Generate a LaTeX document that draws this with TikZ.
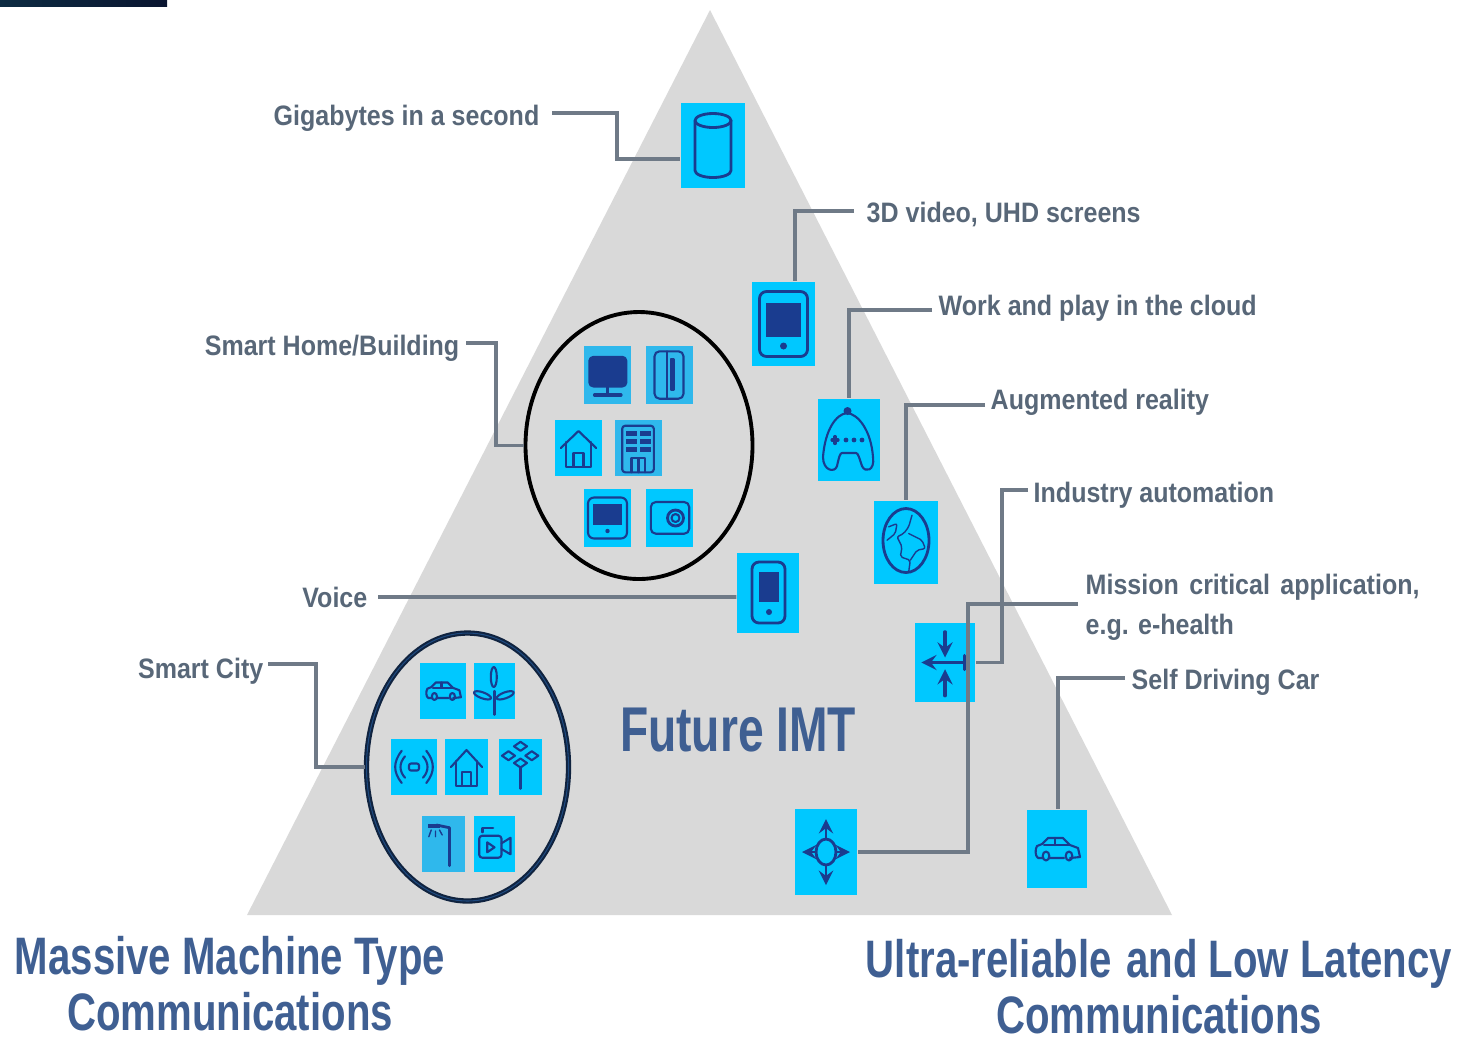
\documentclass[tikz,border=0pt]{standalone}
\usepackage{fontspec}
\usetikzlibrary{shapes.geometric, arrows}
\setmainfont{Liberation Sans}
\newfontfamily\lblfont[FakeStretch=0.89]{Liberation Sans}
\newfontfamily\headfont[FakeStretch=0.762]{Liberation Sans}
\newfontfamily\imtfont[FakeStretch=0.73]{Liberation Sans}
\definecolor{tilecyan}{HTML}{00C8FF}
\definecolor{tiledim}{HTML}{2FB8EC}
\definecolor{iconblue}{HTML}{1A3C8F}
\definecolor{wiregray}{HTML}{6F7A87}
\definecolor{textgray}{HTML}{586778}
\definecolor{headblue}{HTML}{3F5F92}
\definecolor{ringnavy}{HTML}{10233F}
\definecolor{ringblue}{HTML}{1E4A80}
\definecolor{barleft}{HTML}{0C2B42}
\definecolor{barright}{HTML}{0A1530}
\tikzset{>=stealth,
tile/.style 2 args={fill=tilecyan, minimum width=#1cm, minimum height=#2cm, inner sep=0pt},
dimtile/.style 2 args={tile={#1}{#2}, fill=tiledim},
ring/.style={ellipse, draw=black, line width=1.1pt, inner sep=0pt},
wire/.style={draw=wiregray, line width=1.1pt},
lbl/.style={text=textgray, inner sep=0pt, text height=6.5pt, text depth=1.2pt, font=\fontsize{8}{10}\lblfont\bfseries},
head/.style={text=headblue, inner sep=0pt, align=center, font=\fontsize{15}{16}\headfont\bfseries},
icon/.style={draw=iconblue, line width=0.6pt, line join=round, line cap=round},
ink/.style={fill=iconblue, draw=none},
pics/drum/.style={code={
    \draw[icon, line width=0.8pt] (0,0.25) ellipse (0.18 and 0.07);
    \draw[icon, line width=0.8pt] (-0.18,0.25) -- (-0.18,-0.25) arc (180:360:0.18 and 0.07) -- (0.18,0.25);
}},
pics/slate/.style={code={
    \draw[icon, line width=0.8pt, rounded corners=0.07cm] (-0.24,-0.325) rectangle (0.24,0.325);
    \fill[ink] (-0.175,0.21) rectangle (0.175,-0.125);
    \fill[ink] (0,-0.22) circle (0.035);
}},
pics/handset/.style={code={
    \draw[icon, line width=0.8pt, rounded corners=0.07cm] (-0.16,-0.3) rectangle (0.17,0.31);
    \fill[ink] (-0.09,0.21) rectangle (0.11,-0.09);
    \fill[ink] (0.01,-0.19) circle (0.03);
}},
pics/padtab/.style={code={
    \draw[icon, rounded corners=0.06cm] (-0.195,-0.205) rectangle (0.195,0.205);
    \fill[ink] (-0.15,0.145) rectangle (0.14,-0.07);
    \fill[ink] (0,-0.13) circle (0.022);
}},
pics/gamepad/.style={code={
    \draw[icon] (-0.02,0.27) .. controls (-0.13,0.26) and (-0.24,0.1) .. (-0.26,-0.17)
      .. controls (-0.26,-0.31) and (-0.14,-0.33) .. (-0.12,-0.26)
      .. controls (-0.1,-0.17) and (-0.09,-0.13) .. (-0.07,-0.13) -- (0.07,-0.13)
      .. controls (0.09,-0.13) and (0.1,-0.17) .. (0.13,-0.26)
      .. controls (0.16,-0.33) and (0.26,-0.31) .. (0.24,-0.17)
      .. controls (0.22,0.1) and (0.09,0.26) .. (-0.02,0.27) -- cycle;
    \fill[ink] (-0.015,0.29) circle (0.04);
    \draw[icon, line width=0.9pt] (-0.17,0) -- (-0.11,0) (-0.14,0.035) -- (-0.14,-0.035);
    \foreach \px in {-0.03,0.05,0.13} \fill[ink] (\px,0) circle (0.024);
}},
pics/globe/.style={code={
    \draw[icon, line width=0.8pt] (0,0.02) ellipse (0.23 and 0.32);
    \draw[icon, line width=0.4pt, rounded corners=0.02cm] (0.06,0.273) -- (0.027,0.157) -- (-0.023,0.09) -- (-0.09,0.057) -- (-0.04,-0.043) -- (-0.057,-0.143) -- (0.043,-0.177) -- (0.027,-0.293);
    \draw[icon, line width=0.4pt, rounded corners=0.02cm] (0.027,0.09) -- (0.16,0.023) -- (0.193,-0.06) -- (0.11,-0.077) -- (0.043,-0.177);
    \draw[icon, line width=0.4pt, rounded corners=0.02cm] (-0.173,0.157) -- (-0.09,0.19) -- (-0.107,0.09) -- (-0.19,0.023);
}},
pics/arrowsin/.style={code={
    \draw[icon, line width=0.9pt, ->] (0,0) -- (-0.237,0);
    \draw[icon, line width=0.9pt] (0,0) -- (0.197,0) (0.197,0.07) -- (0.197,-0.07);
    \draw[icon, line width=0.9pt, ->] (0,0.307) -- (0,0.05);
    \draw[icon, line width=0.9pt, ->] (0,-0.333) -- (0,-0.067);
}},
pics/arrowsout/.style={code={
    \draw[icon, line width=0.8pt] (0,0) ellipse (0.1 and 0.13);
    \draw[icon, line width=0.8pt, ->] (0,0.13) -- (0,0.33);
    \draw[icon, line width=0.8pt, ->] (0,-0.13) -- (0,-0.33);
    \draw[icon, line width=0.8pt, ->] (-0.1,0) -- (-0.24,0);
    \draw[icon, line width=0.8pt, ->] (0.1,0) -- (0.24,0);
}},
pics/sedan/.style={code={
    \draw[icon] (-0.19,-0.09) .. controls (-0.22,-0.07) and (-0.22,0) .. (-0.2,0.03) -- (-0.15,0.05)
      -- (-0.09,0.11) -- (0.06,0.11) -- (0.13,0.04) -- (0.21,0.01) -- (0.23,-0.08) -- (0.13,-0.09)
      (0.07,-0.09) -- (-0.08,-0.09) (-0.14,-0.09) -- (-0.19,-0.09);
    \draw[icon] (-0.11,-0.07) ellipse (0.033 and 0.045) (0.12,-0.07) ellipse (0.033 and 0.045);
    \draw[icon] (-0.13,0.04) -- (0.12,0.04) (-0.02,0.11) -- (-0.02,0.04);
}},
pics/desktop/.style={code={
    \draw[icon, line width=0.7pt, fill=iconblue, rounded corners=0.04cm] (-0.18,0.18) rectangle (0.187,-0.113);
    \draw[icon] (0,-0.113) -- (0,-0.19);
    \draw[icon, line width=0.9pt] (-0.13,-0.2) -- (0.135,-0.2);
}},
pics/doors/.style={code={
    \draw[icon, rounded corners=0.05cm] (-0.15,0.237) rectangle (0.14,-0.237);
    \draw[icon] (-0.027,0.237) -- (-0.027,-0.237);
    \draw[icon] (0.017,0.163) rectangle (0.04,-0.153);
}},
pics/cottage/.style={code={
    \draw[icon] (-0.177,0) -- (0,0.17) -- (0.177,0);
    \draw[icon] (-0.123,0.06) -- (-0.123,-0.187) -- (0.123,-0.187) -- (0.123,0.06);
    \draw[icon] (-0.05,-0.187) -- (-0.05,-0.047) -- (0.05,-0.047) -- (0.05,-0.187);
}},
pics/tower/.style={code={
    \draw[icon, rounded corners=0.03cm] (-0.163,0.223) rectangle (0.153,-0.243);
    \foreach \py in {0.17,0.09,0.01} {
      \fill[ink] (-0.127,\py) rectangle (-0.02,\py-0.05);
      \fill[ink] (0.013,\py) rectangle (0.12,\py-0.05);
    }
    \draw[icon] (-0.07,-0.243) -- (-0.07,-0.103) -- (0.063,-0.103) -- (0.063,-0.243) (0,-0.103) -- (0,-0.243);
}},
pics/vault/.style={code={
    \draw[icon, rounded corners=0.05cm] (-0.187,0.16) rectangle (0.197,-0.157);
    \draw[icon, line width=0.8pt] (0.06,0) circle (0.08);
    \draw[icon] (0.06,0) circle (0.04);
}},
pics/windmill/.style={code={
    \draw[icon] (0,0) -- (0,-0.237);
    \draw[icon] (-0.007,0.14) ellipse (0.03 and 0.1);
    \draw[icon, rotate around={70:(-0.12,-0.043)}] (-0.12,-0.043) ellipse (0.03 and 0.09);
    \draw[icon, rotate around={-70:(0.107,-0.043)}] (0.107,-0.043) ellipse (0.03 and 0.09);
}},
pics/beacon/.style={code={
    \draw[icon, rounded corners=0.02cm] (-0.05,0.035) rectangle (0.05,-0.035);
    \foreach \sx in {-1,1} {
      \draw[icon] (\sx*0.09,0.107) .. controls (\sx*0.15,0.04) and (\sx*0.15,-0.04) .. (\sx*0.09,-0.107);
      \draw[icon] (\sx*0.123,0.163) .. controls (\sx*0.21,0.05) and (\sx*0.21,-0.05) .. (\sx*0.123,-0.16);
    }
}},
pics/plant/.style={code={
    \foreach \dx/\dy in {0/0.207, -0.12/0.113, 0.113/0.113, 0/0.04}
      \draw[icon] (\dx-0.065,\dy) -- (\dx,\dy+0.045) -- (\dx+0.065,\dy) -- (\dx,\dy-0.045) -- cycle;
    \draw[icon] (0,-0.01) -- (0,-0.217);
}},
pics/lamp/.style={code={
    \draw[icon, line width=0.8pt] (0.06,-0.217) -- (0.06,0.163) -- (-0.07,0.19);
    \fill[ink] (-0.157,0.2) rectangle (-0.04,0.16);
    \draw[icon, line width=0.4pt] (-0.123,0.14) -- (-0.147,0.073) (-0.08,0.13) -- (-0.08,0.073) (-0.04,0.14) -- (-0.013,0.09);
}},
pics/camera/.style={code={
    \draw[icon, rounded corners=0.03cm] (-0.153,0.083) rectangle (0.07,-0.137);
    \draw[icon] (0.07,0.007) -- (0.16,0.063) -- (0.16,-0.103) -- (0.07,-0.05);
    \draw[icon] (-0.12,0.117) -- (-0.12,0.163) -- (-0.013,0.163);
    \draw[icon] (-0.073,0.017) -- (0,-0.033) -- (-0.073,-0.083) -- cycle;
}},
}

\begin{document}
\begin{tikzpicture}
    \useasboundingbox (0,0) rectangle (14.61,-10.38);
    \fill[left color=barleft, right color=barright] (0,0) rectangle (1.67,-0.06);
    \fill[black!15] (7.10,-0.10) -- (11.72,-9.15) -- (2.47,-9.15) -- cycle;

    % tiles on the edge of the triangle
    \node[tile={0.64}{0.85}, xshift=7.13cm, yshift=-1.455cm] (qdrum) {};
    \node[tile={0.63}{0.84}, xshift=7.835cm, yshift=-3.24cm] (qslate) {};
    \node[tile={0.62}{0.82}, xshift=8.49cm, yshift=-4.40cm] (qpad) {};
    \node[tile={0.64}{0.83}, xshift=9.06cm, yshift=-5.425cm] (qglobe) {};
    \node[tile={0.62}{0.80}, xshift=7.68cm, yshift=-5.93cm] (qphone) {};
    \node[tile={0.60}{0.79}, xshift=9.45cm, yshift=-6.625cm] (qarrows) {};
    \node[tile={0.62}{0.86}, xshift=8.26cm, yshift=-8.52cm] (qround) {};
    \node[tile={0.60}{0.78}, xshift=10.57cm, yshift=-8.49cm] (qcar) {};

    % the two groups
    \node[ring, minimum width=2.27cm, minimum height=2.67cm, xshift=6.39cm, yshift=-4.455cm] (qhome) {};
    \node[ring, draw=ringnavy, double=ringblue, double distance=0.3pt, line width=0.6pt,
        minimum width=2.02cm, minimum height=2.68cm, xshift=4.675cm, yshift=-7.67cm] (qcity) {};

    \node[dimtile={0.47}{0.58}, xshift=6.075cm, yshift=-3.75cm] (hscreen) {};
    \node[dimtile={0.47}{0.58}, xshift=6.695cm, yshift=-3.75cm] (hdoors) {};
    \node[tile={0.47}{0.56}, xshift=5.785cm, yshift=-4.48cm] (hhouse) {};
    \node[dimtile={0.47}{0.56}, xshift=6.385cm, yshift=-4.48cm] (htower) {};
    \node[tile={0.47}{0.58}, xshift=6.075cm, yshift=-5.18cm] (hpad) {};
    \node[tile={0.47}{0.58}, xshift=6.695cm, yshift=-5.18cm] (hvault) {};

    \node[tile={0.46}{0.56}, xshift=4.43cm, yshift=-6.91cm] (ccar) {};
    \node[tile={0.41}{0.56}, xshift=4.945cm, yshift=-6.91cm] (cmill) {};
    \node[tile={0.46}{0.56}, xshift=4.14cm, yshift=-7.67cm] (cbeacon) {};
    \node[tile={0.43}{0.56}, xshift=4.665cm, yshift=-7.67cm] (chouse) {};
    \node[tile={0.43}{0.56}, xshift=5.205cm, yshift=-7.67cm] (cplant) {};
    \node[dimtile={0.43}{0.56}, xshift=4.435cm, yshift=-8.44cm] (clamp) {};
    \node[tile={0.41}{0.56}, xshift=4.945cm, yshift=-8.44cm] (ccamera) {};

    \pic at (qdrum) {drum};
    \pic at (qslate) {slate};
    \pic at (qpad) {gamepad};
    \pic at (qglobe) {globe};
    \pic at (qphone) {handset};
    \pic at (qarrows) {arrowsin};
    \pic at (qround) {arrowsout};
    \pic at (qcar) {sedan};
    \pic at (hscreen) {desktop};
    \pic at (hdoors) {doors};
    \pic at (hhouse) {cottage};
    \pic at (htower) {tower};
    \pic at (hpad) {padtab};
    \pic at (hvault) {vault};
    \pic[scale=0.78] at (ccar) {sedan};
    \pic at (cmill) {windmill};
    \pic at (cbeacon) {beacon};
    \pic[xscale=0.88] at (chouse) {cottage};
    \pic at (cplant) {plant};
    \pic at (clamp) {lamp};
    \pic at (ccamera) {camera};

    % labels
    \node[lbl, anchor=west, xshift=2.73cm, yshift=-1.16cm] (lgiga) {Gigabytes in a second};
    \node[lbl, anchor=west, xshift=8.66cm, yshift=-2.13cm] (lvideo) {3D video, UHD screens};
    \node[lbl, anchor=west, xshift=9.38cm, yshift=-3.06cm] (lcloud) {Work and play in the cloud};
    \node[lbl, anchor=west, xshift=9.90cm, yshift=-4.00cm] (laugm) {Augmented reality};
    \node[lbl, anchor=west, xshift=10.33cm, yshift=-4.93cm] (lindus) {Industry automation};
    \node[lbl, anchor=west, align=left, xshift=10.85cm, yshift=-6.25cm] (lmission) {Mission\hspace{1pt} critical\hspace{1pt} application,\\[1.3pt]e.g. e-health};
    \node[lbl, anchor=west, xshift=11.31cm, yshift=-6.80cm] (lself) {Self Driving Car};
    \node[lbl, anchor=east, xshift=4.60cm, yshift=-3.46cm] (lhome) {Smart Home/Building};
    \node[lbl, anchor=east, xshift=3.68cm, yshift=-5.98cm] (lvoice) {Voice};
    \node[lbl, anchor=east, xshift=2.64cm, yshift=-6.69cm] (lcity) {Smart City};

    \node[head, font=\fontsize{18}{20}\imtfont\bfseries, xshift=7.38cm, yshift=-7.30cm] (lfuture) {Future IMT};
    \node[head, xshift=2.30cm, yshift=-9.84cm] (lmassive) {Massive Machine Type\\Communications};
    \node[head, xshift=11.59cm, yshift=-9.865cm] (lultra) {Ultra-reliable\hspace{1pt} and Low Latency\\Communications};

    % connectors
    \draw[wire] ([shift={(0.12,0.03)}]lgiga.east) -- ++(0.65,0) |- ([yshift=-0.135cm]qdrum.west);
    \draw[wire] ([shift={(-0.12,0.02)}]lvideo.west) -| ([xshift=0.115cm]qslate.north);
    \draw[wire] ([shift={(-0.06,-0.04)}]lcloud.west) -| (qpad.north);
    \draw[wire] ([shift={(-0.05,-0.05)}]laugm.west) -| (qglobe.north);
    \draw[wire] ([shift={(-0.05,0.03)}]lindus.west) -- ++(-0.26,0) |- (qarrows.east);
    \draw[wire] ([shift={(-0.07,0.21)}]lmission.west) -- ++(-1.10,0) |- (qround.east);
    \draw[wire] ([shift={(-0.06,0.02)}]lself.west) -| ([xshift=0.01cm]qcar.north);
    \draw[wire] ([shift={(0.06,0.03)}]lhome.east) -- ++(0.30,0) |- (qhome.west);
    \draw[wire] ([shift={(0.10,0.01)}]lvoice.east) -- ([yshift=-0.04cm]qphone.west);
    \draw[wire] ([shift={(0.04,0.05)}]lcity.east) -- ++(0.48,0) |- (qcity.west);
\end{tikzpicture}
\end{document}
